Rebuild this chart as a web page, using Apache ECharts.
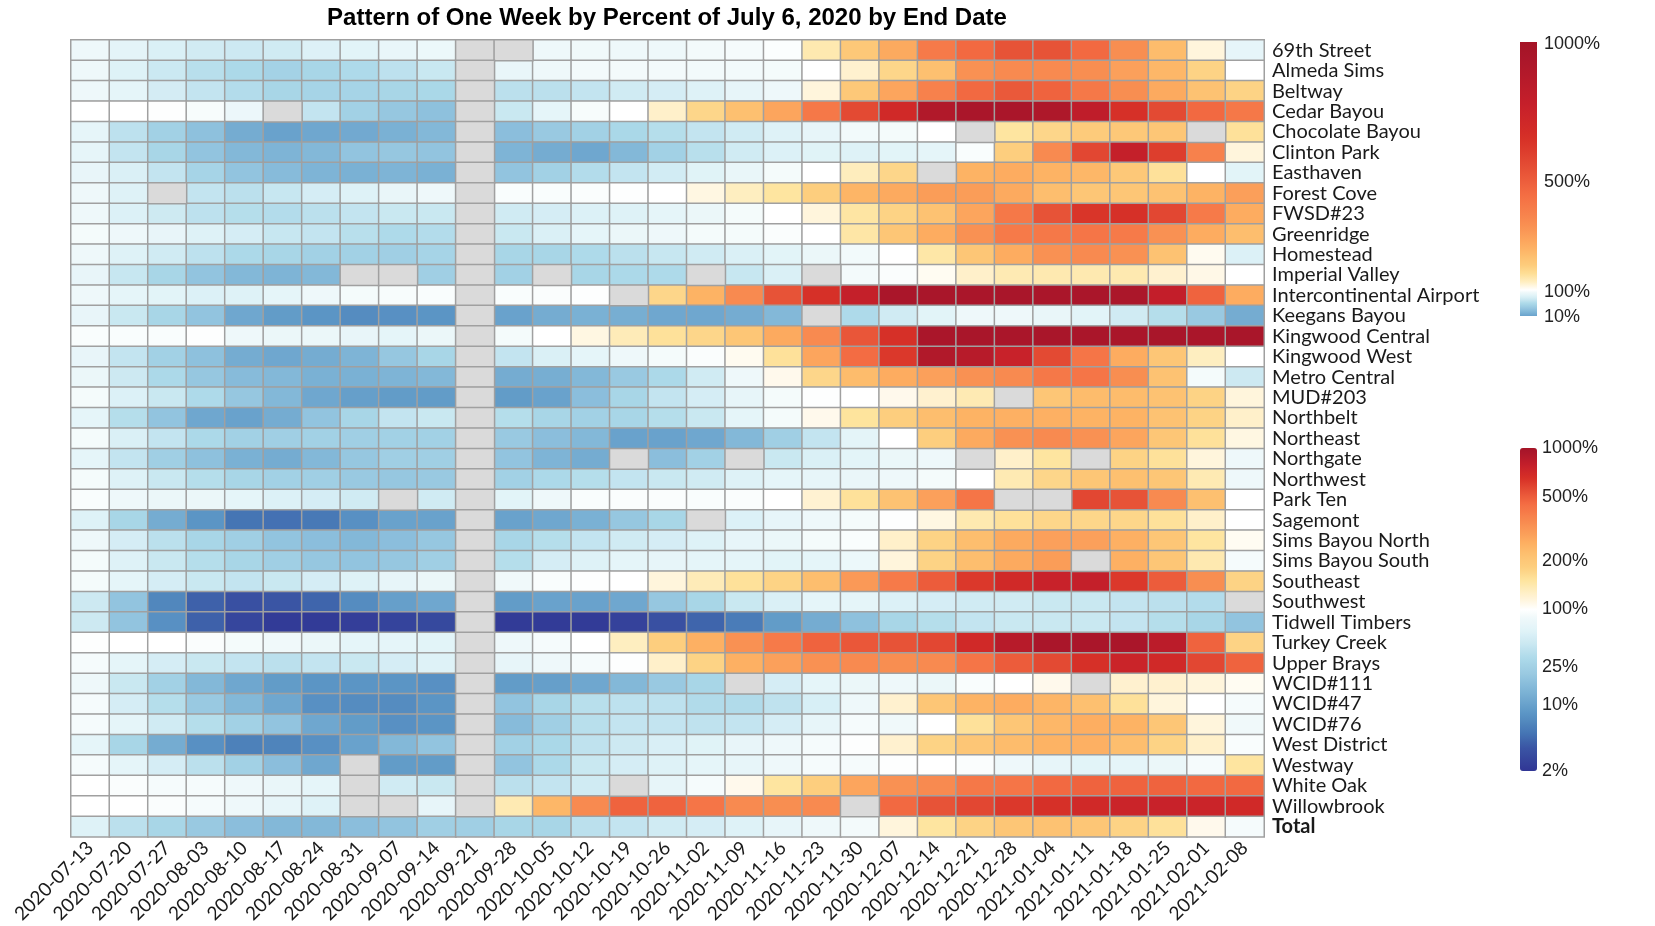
<!DOCTYPE html>
<html>
<head>
<meta charset="utf-8">
<script src="https://cdn.jsdelivr.net/npm/echarts@6/dist/echarts.min.js"></script>
<style>
  html, body { margin: 0; padding: 0; background: #fff; }
  #chart { width: 1655px; height: 926px; }
</style>
</head>
<body>
<div id="chart"></div>
<script>
// week end dates (columns)
var weeks = ['2020-07-13','2020-07-20','2020-07-27','2020-08-03','2020-08-10','2020-08-17','2020-08-24',
  '2020-08-31','2020-09-07','2020-09-14','2020-09-21','2020-09-28','2020-10-05','2020-10-12','2020-10-19',
  '2020-10-26','2020-11-02','2020-11-09','2020-11-16','2020-11-23','2020-11-30','2020-12-07','2020-12-14',
  '2020-12-21','2020-12-28','2021-01-04','2021-01-11','2021-01-18','2021-01-25','2021-02-01','2021-02-08'];

var stations = ['69th Street','Almeda Sims','Beltway','Cedar Bayou','Chocolate Bayou','Clinton Park','Easthaven',
  'Forest Cove','FWSD#23','Greenridge','Homestead','Imperial Valley','Intercontinental Airport','Keegans Bayou',
  'Kingwood Central','Kingwood West','Metro Central','MUD#203','Northbelt','Northeast','Northgate','Northwest',
  'Park Ten','Sagemont','Sims Bayou North','Sims Bayou South','Southeast','Southwest','Tidwell Timbers',
  'Turkey Creek','Upper Brays','WCID#111','WCID#47','WCID#76','West District','Westway','White Oak',
  'Willowbrook','Total'];

// percent of July 6, 2020 (null = no sample)
var p69thStreet      = [80,65,55,48,45,47,57,62,72,78,null,null,80,82,80,80,85,88,95,140,200,270,400,460,530,530,460,340,230,115,68];
var pAlmedaSims      = [80,58,44,35,30,26,28,31,37,43,null,72,80,85,85,85,84,84,87,100,122,170,220,330,350,350,340,290,240,175,100];
var pBeltway         = [80,66,50,40,33,28,27,27,28,29,null,36,36,40,47,51,58,69,80,115,200,280,380,460,510,480,410,340,270,215,175];
var pCedarBayou      = [100,100,98,90,77,null,40,25,20,18,null,43,66,90,100,125,170,220,280,410,560,700,900,950,950,920,810,650,560,460,410];
var pChocolateBayou  = [68,37,25,18,12,10,11,11.5,13,15,null,17,21,25,29,34,40,47,58,69,84,87,100,null,150,170,190,200,205,null,155];
var pClintonPark     = [68,40,28,19,15,14,15,19,20,19,null,14,12,11,15,25,35,47,56,60,58,62,66,92,185,350,570,780,600,380,115];
var pEasthaven       = [70,55,40,27,19,16,14,13,14,13,null,19,25,33,40,49,60,72,87,100,132,170,null,250,265,250,240,200,155,100,62];
var pForestCove      = [80,58,null,40,36,42,51,58,72,80,null,92,92,94,97,100,112,130,150,185,245,270,300,300,270,225,205,205,215,250,295];
var pFWSD23          = [80,56,46,37,34,33,36,40,43,43,null,47,51,56,58,66,75,87,100,115,148,175,215,280,410,530,630,650,570,400,265];
var pGreenridge      = [87,80,70,58,51,42,40,35,31,33,null,43,55,66,75,80,87,87,94,100,146,205,265,330,400,410,420,400,330,265,225];
var pHomestead       = [80,58,47,37,30,28,25,25,24,27,null,28,28,31,36,42,47,55,62,75,84,100,145,205,265,330,350,330,215,106,56];
var pImperialValley  = [70,42,28,19,15,14,15,null,null,24,null,25,null,28,30,31,null,42,55,null,85,94,105,125,138,140,140,140,122,110,100];
var pIntercontinental= [80,66,62,56,58,66,80,87,90,93,null,92,94,98,null,170,250,350,530,650,780,950,960,950,960,950,950,940,790,480,265];
var pKeegansBayou    = [70,43,28,19,11,9,8,7,7.5,8,null,10,12,13,12.5,11,11,12,15,null,31,47,62,80,80,72,62,47,34,21,12];
var pKingwoodCentral = [92,92,92,97,80,76,76,70,66,76,null,87,100,112,135,155,170,205,270,350,520,650,950,960,950,960,950,950,960,950,960];
var pKingwoodWest    = [70,40,25,18,12,11,12,14,20,28,null,40,55,66,80,87,94,106,155,280,450,620,900,860,760,560,420,265,205,130,100];
var pMetroCentral    = [76,45,30,20,16,15,13,13,14,15,null,12,12.5,15,21,30,47,80,108,170,228,265,290,330,350,410,420,340,215,87,45];
var pMUD203          = [87,56,43,31,20,15,11,9.5,9,9,null,9,10,17,28,40,51,69,87,97,100,108,122,138,null,205,230,230,215,175,115];
var pNorthbelt       = [66,34,19,11,10,12,19,28,40,43,null,34,28,25,28,34,43,66,87,108,152,185,225,250,255,255,250,250,215,175,125];
var pNortheast       = [87,55,40,30,25,24,25,24,25,25,null,21,17,15,10,10,11,15,24,40,65,100,185,270,330,350,330,280,205,155,112];
var pNorthgate       = [66,40,24,18,13,12,15,20,24,24,null,19,14,12,null,17,25,null,43,55,64,76,80,null,125,150,null,175,155,115,80];
var pNorthwest       = [87,58,43,34,28,25,24,21,20,21,null,25,30,34,40,43,47,58,66,69,73,80,87,100,138,170,205,220,205,138,80];
var pParkTen         = [92,80,76,76,66,56,51,47,null,47,null,62,80,92,94,94,92,94,100,120,155,215,290,420,null,null,570,530,350,220,100];
var pSagemont        = [58,28,12,8,5,4.8,5.3,7.5,10,10,null,10,11,13,20,28,null,56,69,80,87,98,112,140,155,170,170,170,155,125,100];
var pSimsBayouNorth  = [80,51,36,28,24,19,17,15,17,20,null,28,34,40,47,51,58,69,76,87,92,125,175,225,270,290,290,255,205,150,105];
var pSimsBayouSouth  = [87,58,43,34,28,24,20,19,20,24,null,34,51,58,66,69,66,66,62,66,78,115,175,225,270,300,null,255,205,140,88];
var pSoutheast       = [87,66,51,43,40,43,51,58,69,76,null,82,92,98,100,115,135,155,175,225,310,400,500,620,700,760,780,620,500,340,175];
var pSouthwest       = [45,19,6.5,4,3.2,3.5,4.2,7,9.5,11,null,9,10,10,11,20,28,43,55,66,66,56,51,47,47,43,43,40,36,33,null];
var pTidwellTimbers  = [45,19,7.5,4,2.7,2.2,2.2,2.3,2.6,2.8,null,2.2,2.2,2.2,2.5,3.2,4.2,5.5,9,12,18,28,34,40,43,43,43,40,34,28,19];
var pTurkeyCreek     = [98,100,100,94,87,82,76,66,66,62,null,80,88,100,130,185,255,330,400,480,515,530,570,700,860,950,950,950,840,480,175];
var pUpperBrays      = [88,66,51,43,40,36,40,43,51,58,null,69,80,88,97,125,175,255,290,330,350,340,350,420,500,560,650,740,700,570,480];
var pWCID111         = [80,43,25,15,11,9,8,8,8,7.5,null,9,9.5,11,15,21,28,null,51,66,75,80,76,92,100,108,null,122,122,115,105];
var pWCID47          = [88,51,34,21,15,11,7.5,7,7,8,null,19,28,35,37,37,32,32,38,53,80,122,205,250,265,245,220,155,115,100,88];
var pWCID76          = [88,66,47,34,25,19,11,9,7.5,8,null,16,24,35,40,40,38,40,51,69,88,82,100,155,205,240,260,250,205,115,82];
var pWestDistrict    = [66,28,12,7.5,6,6.2,7.5,10,15,19,null,25,29,38,45,54,60,70,80,88,98,122,175,205,230,250,255,225,175,125,92];
var pWestway         = [88,66,51,36,25,17,11,null,9,9,null,19,30,43,51,58,66,69,80,88,88,97,100,94,80,69,62,66,76,88,150];
var pWhiteOak        = [100,94,88,88,80,72,66,null,47,43,null,36,40,47,null,69,88,108,150,185,280,330,350,410,420,460,480,480,480,460,460];
var pWillowbrook     = [100,100,94,88,80,69,58,null,null,69,null,138,240,350,480,480,420,350,340,350,null,460,530,570,620,650,700,740,760,740,700];
var pTotal           = [58,36,28,21,17,15,15,17,19,24,24,28,28,36,40,47,51,58,69,80,85,115,150,175,205,215,205,175,155,108,88];

var rowValues = [p69thStreet,pAlmedaSims,pBeltway,pCedarBayou,pChocolateBayou,pClintonPark,pEasthaven,
  pForestCove,pFWSD23,pGreenridge,pHomestead,pImperialValley,pIntercontinental,pKeegansBayou,
  pKingwoodCentral,pKingwoodWest,pMetroCentral,pMUD203,pNorthbelt,pNortheast,pNorthgate,pNorthwest,
  pParkTen,pSagemont,pSimsBayouNorth,pSimsBayouSouth,pSoutheast,pSouthwest,pTidwellTimbers,
  pTurkeyCreek,pUpperBrays,pWCID111,pWCID47,pWCID76,pWestDistrict,pWestway,pWhiteOak,
  pWillowbrook,pTotal];

// legend tick labels
var ticksMain = [1000,500,200,100,25,10,2];
var ticksTop = [1000,500,100,10];

// colour anchors (percent -> colour)
var colorAnchors = [[2,'#313695'],[3.5,'#3a55a4'],[5,'#4575b4'],[8,'#5b95c5'],[12,'#74acd1'],[17,'#8bbfdc'],
  [22,'#9ccbe2'],[30,'#abd9e9'],[45,'#cde9f2'],[60,'#e0f3f8'],[80,'#eef8fa'],[100,'#ffffff'],[115,'#fff5dc'],
  [150,'#fee5a0'],[180,'#fdd080'],[220,'#fdc070'],[260,'#fdae61'],[330,'#f99153'],[450,'#f46d43'],
  [560,'#e34a33'],[650,'#d73027'],[780,'#c51f2a'],[950,'#a9162a'],[1000,'#a51426']];

var LOWDEC = Math.log10(50); // decades from 100% down to 2%

// diverging log scale, -1 (2%) .. 0 (100%) .. 1 (1000%)
function toT(v) {
  var l = Math.log10(v / 100);
  return l >= 0 ? l : l / LOWDEC;
}
function fromT(t) {
  return t >= 0 ? 100 * Math.pow(10, t) : 100 * Math.pow(10, t * LOWDEC);
}
function hexRgb(h) {
  return [parseInt(h.substr(1,2),16), parseInt(h.substr(3,2),16), parseInt(h.substr(5,2),16)];
}
function colorAt(v) {
  var t = toT(Math.max(2, Math.min(1000, v)));
  for (var i = 0; i < colorAnchors.length - 1; i++) {
    var t0 = toT(colorAnchors[i][0]), t1 = toT(colorAnchors[i+1][0]);
    if (t <= t1 || i === colorAnchors.length - 2) {
      var f = t1 === t0 ? 0 : Math.max(0, Math.min(1, (t - t0) / (t1 - t0)));
      var a = hexRgb(colorAnchors[i][1]), b = hexRgb(colorAnchors[i+1][1]);
      return 'rgb(' + [0,1,2].map(function (k) { return Math.round(a[k] + (b[k]-a[k]) * f); }).join(',') + ')';
    }
  }
}

var ramp = [];
for (var i = 0; i <= 100; i++) ramp.push(colorAt(fromT(-1 + i / 50)));

var cells = [], missing = [];
rowValues.forEach(function (row, y) {
  row.forEach(function (v, x) {
    if (v == null) missing.push([x, y, 0]);
    else cells.push([x, y, toT(v), v]);
  });
});

// bottom legend geometry
var LEG_X = 1520, LEG_W = 17, LEG_TOP = 448, LEG_H = 323;
// top legend geometry
var TOP_Y = 42, TOP_RED = 248, TOP_H = 274;

var topStops = [];
for (var k = 0; k <= 30; k++) {
  var v = 1000 - 900 * k / 30;
  topStops.push({ offset: (TOP_RED * k / 30) / TOP_H, color: colorAt(v) });
}
for (var k2 = 1; k2 <= 10; k2++) {
  var v2 = 100 * Math.pow(10, -k2 / 10);
  topStops.push({ offset: (TOP_RED + (TOP_H - TOP_RED) * k2 / 10) / TOP_H, color: colorAt(v2) });
}

var graphics = [{
  type: 'rect',
  shape: { x: LEG_X, y: TOP_Y, width: LEG_W, height: TOP_H },
  style: { fill: new echarts.graphic.LinearGradient(0, 0, 0, 1, topStops) }
}];
ticksTop.forEach(function (v) {
  var y = v >= 100 ? TOP_Y + TOP_RED * (1000 - v) / 900 : TOP_Y + TOP_H - 1;
  graphics.push({
    type: 'text', x: LEG_X + 24, y: y + 2,
    style: { text: v + '%', fontSize: 18, fontFamily: 'Liberation Sans', fill: '#222', verticalAlign: 'middle' }
  });
});
ticksMain.forEach(function (v) {
  var y = LEG_TOP + (1 - toT(v)) / 2 * LEG_H;
  graphics.push({
    type: 'text', x: LEG_X + 22, y: y,
    style: { text: v + '%', fontSize: 18, fontFamily: 'Liberation Sans', fill: '#222', verticalAlign: 'middle' }
  });
});

var myChart = echarts.init(document.getElementById('chart'));

var option = {
  backgroundColor: '#fff',
  animation: false,
  title: {
    text: 'Pattern of One Week by Percent of July 6, 2020 by End Date',
    left: 667,
    top: 6,
    padding: 0,
    textAlign: 'center',
    textStyle: { fontSize: 24, fontWeight: 'bold', fontFamily: 'Liberation Sans', color: '#000' }
  },
  grid: { left: 71, top: 40, width: 1193, height: 801 },
  xAxis: {
    type: 'category',
    data: weeks,
    axisLine: { show: false },
    axisTick: { show: false },
    splitLine: { show: false },
    axisLabel: {
      interval: 0, rotate: 45, margin: 8,
      fontSize: 19, fontFamily: 'Lato', color: '#1a1a1a'
    }
  },
  yAxis: {
    type: 'category',
    data: stations,
    inverse: true,
    position: 'right',
    axisLine: { show: false },
    axisTick: { show: false },
    splitLine: { show: false },
    axisLabel: {
      interval: 0, margin: 8, align: 'left',
      fontSize: 20, fontFamily: 'Lato', color: '#1a1a1a',
      formatter: function (s) { return s === 'Total' ? '{b|' + s + '}' : s; },
      rich: { b: { fontSize: 20, fontFamily: 'Lato', fontWeight: 'bold', color: '#1a1a1a' } }
    }
  },
  visualMap: {
    type: 'continuous',
    seriesIndex: 0,
    dimension: 2,
    min: -1,
    max: 1,
    calculable: false,
    show: true,
    text: null,
    showLabel: false,
    left: LEG_X,
    top: LEG_TOP,
    padding: 0,
    itemWidth: LEG_W,
    itemHeight: LEG_H,
    inRange: { color: ramp }
  },
  graphic: graphics,
  series: [
    {
      type: 'heatmap',
      data: cells,
      itemStyle: { borderColor: '#a0a0a0', borderWidth: 1.5 },
      emphasis: { disabled: true }
    },
    {
      type: 'heatmap',
      data: missing,
      itemStyle: { color: '#dadada', borderColor: '#a0a0a0', borderWidth: 1.5 },
      emphasis: { disabled: true }
    }
  ]
};

myChart.setOption(option);
</script>
</body>
</html>
